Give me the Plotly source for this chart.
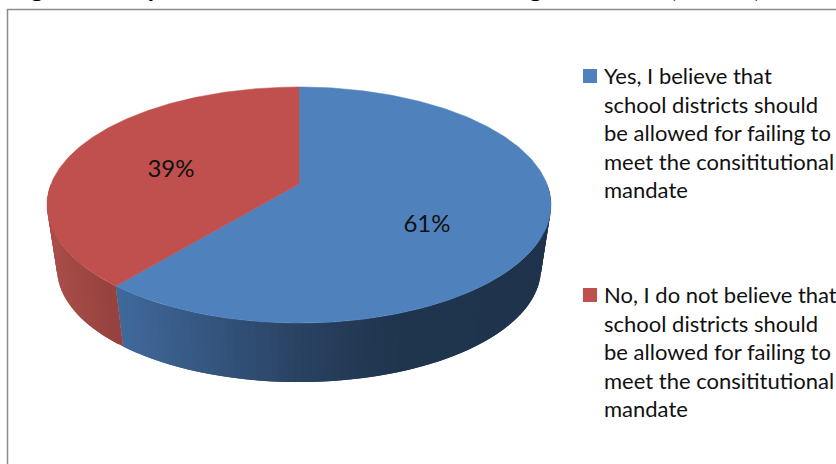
import numpy as np
import plotly.graph_objects as go

TITLE = "Figure 35: Opinion on the School Districts Suing their State (N=350)"
LABELS = [
    "Yes, I believe that<br>school districts should<br>be allowed for failing to<br>meet the consititutional<br>mandate",
    "No, I do not believe that<br>school districts should<br>be allowed for failing to<br>meet the consititutional<br>mandate",
]
VALUES = [61, 39]
COLORS = ["#4F81BD", "#C0504D"]

W, H = 836, 464
CX, CY = 299.0, 184.0      # projected pie centre
A, B, K = 248.0, 114.3, 0.178  # perspective projection of the disc
S, DROP = 0.96, 64.6        # lower rim scale and offset
FONT = "Lato"


def project(theta_deg, scale=1.0, drop=0.0):
    t = np.radians(theta_deg)
    X, Y = np.sin(t), np.cos(t)
    w = 1 + K * Y
    return CX + scale * A * X / w, CY + drop - scale * B * Y / w


def wall_color(i, x):
    if i == 0:
        stops_x = [118, 300, 400, 560]
        stops = np.array([[65, 107, 158], [42, 67, 99], [32, 53, 78], [31, 51, 76]])
    else:
        stops_x = [45, 118, 125]
        stops = np.array([[172, 80, 76], [150, 66, 62], [150, 66, 62]])
    c = [np.interp(x, stops_x, stops[:, j]) for j in range(3)]
    return "rgb(%d,%d,%d)" % tuple(c)


fig = go.Figure()
total = sum(VALUES)
bounds = np.concatenate([[0], np.cumsum(VALUES) / total * 360])

# side wall: overlapping quads along the visible front of the disc
for i in range(len(VALUES)):
    lo, hi = max(bounds[i], 90), min(bounds[i + 1], 270)
    edges = np.linspace(lo, hi, int((hi - lo) / 1.5) + 2)
    pairs = [(a0, min(a1, hi)) for a0, a1 in zip(edges[:-1], edges[1:] + 1.5)]
    for a0, a1 in pairs:
        x0, y0 = project(a0)
        x1, y1 = project(a1)
        x2, y2 = project(a1, S, DROP)
        x3, y3 = project(a0, S, DROP)
        col = wall_color(i, (x0 + x3) / 2)
        fig.add_trace(go.Scatter(
            x=[x0, x1, x2, x3, x0], y=[y0, y1, y2, y3, y0], mode="lines",
            fill="toself", fillcolor=col, line=dict(width=0),
            hoverinfo="skip", showlegend=False))

# top face
for i in range(len(VALUES)):
    th = np.linspace(bounds[i], bounds[i + 1], 240)
    px, py = project(th)
    fig.add_trace(go.Scatter(
        x=np.concatenate([[CX], px, [CX]]), y=np.concatenate([[CY], py, [CY]]),
        mode="lines", fill="toself", fillcolor=COLORS[i],
        line=dict(color=COLORS[i], width=0.5), showlegend=False,
        hoverinfo="skip"))

# percentage labels
LABEL_X, LABEL_Y = [427, 171], [226, 171]
fig.add_trace(go.Scatter(
    x=LABEL_X, y=LABEL_Y, mode="text", text=[f"{v}%" for v in VALUES],
    textposition="middle center", textfont=dict(family=FONT, size=24, color="#111111"),
    hoverinfo="skip", showlegend=False))

# legend: square swatches plus wrapped text
SWATCH_X, SWATCH_Y = [590, 590], [76, 295]
fig.add_trace(go.Scatter(
    x=SWATCH_X, y=SWATCH_Y, mode="markers",
    marker=dict(symbol="square", size=14, color=COLORS, line=dict(width=0)),
    hoverinfo="skip", showlegend=False))
for lab, sy in zip(LABELS, SWATCH_Y):
    fig.add_annotation(x=602.5, y=sy - 15.5, xanchor="left", yanchor="top", align="left",
                       text=lab, showarrow=False, borderpad=0,
                       font=dict(family=FONT, size=22, color="#111111"))

fig.add_shape(type="rect", x0=7.5, y0=9.5, x1=W + 20, y1=H + 20,
              line=dict(color="#8C8C8C", width=1.5), layer="below")
fig.add_annotation(x=10, y=2.5, xanchor="left", yanchor="bottom", text="<b>" + TITLE + "</b>",
                   showarrow=False, font=dict(family=FONT, size=25, color="#000000"),
                   borderpad=0, borderwidth=0)

fig.update_layout(
    width=W, height=H, margin=dict(l=0, r=0, t=0, b=0),
    paper_bgcolor="white", plot_bgcolor="white", showlegend=False,
    xaxis=dict(range=[0, W], visible=False, fixedrange=True),
    yaxis=dict(range=[H, 0], visible=False, fixedrange=True),
    font=dict(family=FONT),
)
fig.write_html("out.html", config=dict(displayModeBar=False),
               post_script="document.body.style.margin='0';")
